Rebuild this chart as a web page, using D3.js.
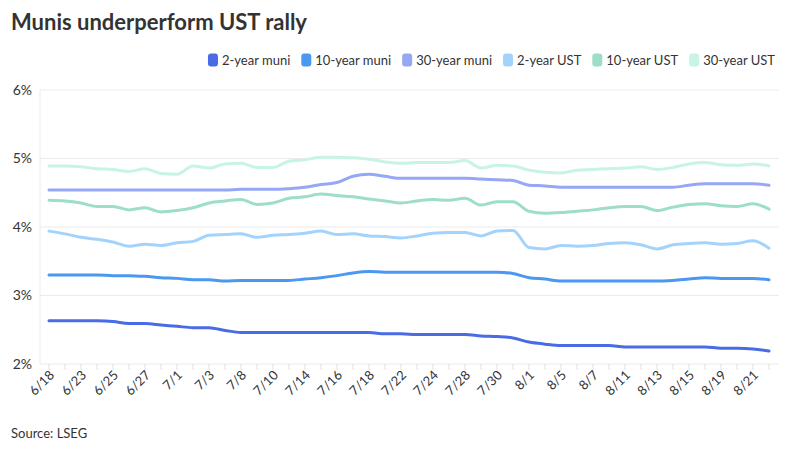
<!DOCTYPE html>
<html>
<head>
<meta charset="utf-8">
<script src="https://cdn.jsdelivr.net/npm/d3@7"></script>
<style>
  body { margin: 0; background: #fff; }
  svg { font-family: Lato, "Open Sans", sans-serif; }
</style>
</head>
<body>
<svg id="chart" width="800" height="450"></svg>
<script>
// trading days shown on the x axis
const dates = ["6/18","6/20","6/23","6/24","6/25","6/26","6/27","6/30","7/1","7/2","7/3","7/7",
  "7/8","7/9","7/10","7/11","7/14","7/15","7/16","7/17","7/18","7/21","7/22","7/23","7/24",
  "7/25","7/28","7/29","7/30","7/31","8/1","8/4","8/5","8/6","8/7","8/8","8/11","8/12","8/13",
  "8/14","8/15","8/18","8/19","8/20","8/21","8/22"];

const muni2 = [2.63,2.63,2.63,2.63,2.62,2.59,2.59,2.57,2.55,2.53,2.53,2.49,
  2.46,2.46,2.46,2.46,2.46,2.46,2.46,2.46,2.46,2.44,2.44,
  2.43,2.43,2.43,2.43,2.41,2.40,2.38,2.32,2.29,2.27,2.27,2.27,
  2.27,2.25,2.25,2.25,2.25,2.25,2.25,2.23,2.23,2.22,2.19];
const muni10 = [3.30,3.30,3.30,3.30,3.29,3.29,3.28,3.26,3.25,3.23,3.23,3.21,
  3.22,3.22,3.22,3.22,3.24,3.26,3.29,3.33,3.35,3.34,3.34,
  3.34,3.34,3.34,3.34,3.34,3.34,3.32,3.26,3.24,3.21,3.21,3.21,
  3.21,3.21,3.21,3.21,3.22,3.24,3.26,3.25,3.25,3.25,3.23];
const muni30 = [4.54,4.54,4.54,4.54,4.54,4.54,4.54,4.54,4.54,4.54,4.54,4.54,
  4.55,4.55,4.55,4.56,4.58,4.62,4.65,4.74,4.77,4.74,4.71,
  4.71,4.71,4.71,4.71,4.70,4.69,4.68,4.61,4.60,4.58,4.58,4.58,
  4.58,4.58,4.58,4.58,4.58,4.61,4.63,4.63,4.63,4.63,4.61];
const ust2 = [3.94,3.90,3.85,3.82,3.78,3.72,3.75,3.73,3.77,3.79,3.88,3.89,
  3.90,3.85,3.88,3.89,3.91,3.94,3.89,3.90,3.87,3.86,3.84,
  3.87,3.91,3.92,3.92,3.87,3.94,3.95,3.70,3.68,3.73,3.72,3.73,
  3.76,3.77,3.74,3.68,3.74,3.76,3.77,3.75,3.76,3.80,3.69];
const ust10 = [4.39,4.38,4.35,4.30,4.30,4.25,4.28,4.22,4.24,4.28,4.35,4.38,
  4.40,4.33,4.35,4.42,4.44,4.48,4.46,4.44,4.41,4.38,4.35,
  4.38,4.40,4.39,4.42,4.32,4.37,4.37,4.23,4.20,4.21,4.23,4.25,
  4.28,4.30,4.30,4.24,4.29,4.33,4.34,4.31,4.30,4.34,4.26];
const ust30 = [4.89,4.89,4.88,4.85,4.84,4.81,4.85,4.78,4.77,4.89,4.86,4.92,
  4.93,4.87,4.87,4.96,4.98,5.02,5.02,5.01,4.99,4.95,4.93,
  4.94,4.94,4.94,4.97,4.86,4.90,4.89,4.83,4.80,4.79,4.83,4.84,
  4.85,4.86,4.88,4.84,4.87,4.92,4.94,4.91,4.90,4.92,4.89];

const seriesNames = ["2-year muni","10-year muni","30-year muni","2-year UST","10-year UST","30-year UST"];
const seriesValues = [muni2, muni10, muni30, ust2, ust10, ust30];
const colors = ["#4a6be6","#4b98f1","#95a7f5","#a3d3fc","#9cdec8","#c7f4e5"];
const yTicks = [2, 3, 4, 5, 6];

const svg = d3.select("#chart");

const margin = { left: 41, right: 23, top: 90, bottom: 86 };
const width = 800, height = 450;

const x = d3.scaleBand()
  .domain(dates)
  .range([margin.left, width - margin.right]);

const y = d3.scaleLinear()
  .domain([2, 6])
  .range([height - margin.bottom, margin.top]);

const xc = (d) => x(d) + x.bandwidth() / 2;

// title
svg.append("text")
  .attr("x", 11).attr("y", 30)
  .attr("font-size", 22).attr("font-weight", 700)
  .attr("fill", "#333")
  .text("Munis underperform UST rally");

// grid lines
svg.append("g")
  .selectAll("line")
  .data(yTicks)
  .join("line")
  .attr("x1", margin.left - 1).attr("x2", width - margin.right + 2)
  .attr("y1", (d) => y(d)).attr("y2", (d) => y(d))
  .attr("stroke", "#ebebeb").attr("stroke-width", 1);

// y axis line
svg.append("line")
  .attr("x1", margin.left - 1).attr("x2", margin.left - 1)
  .attr("y1", y(6)).attr("y2", y(2))
  .attr("stroke", "#ebebeb");

// y labels
svg.append("g")
  .selectAll("text")
  .data(yTicks)
  .join("text")
  .attr("x", 32).attr("y", (d) => y(d))
  .attr("dy", "0.35em")
  .attr("text-anchor", "end")
  .attr("font-size", 14).attr("fill", "#333")
  .text((d) => d + "%");

// x ticks
svg.append("g")
  .selectAll("line")
  .data(dates)
  .join("line")
  .attr("x1", xc).attr("x2", xc)
  .attr("y1", y(2)).attr("y2", y(2) + 6)
  .attr("stroke", "#e0e0e0");

// x labels, every other day
svg.append("g")
  .selectAll("text")
  .data(dates.filter((d, i) => i % 2 === 0))
  .join("text")
  .attr("text-anchor", "end")
  .attr("font-size", 13).attr("fill", "#333")
  .attr("transform", (d) => `translate(${xc(d) + 6},${y(2) + 12}) rotate(-45)`)
  .text((d) => d);

// lines
const line = d3.line()
  .x((d, i) => xc(dates[i]))
  .y((d) => y(d))
  .curve(d3.curveMonotoneX);

svg.append("g")
  .selectAll("path")
  .data(seriesValues)
  .join("path")
  .attr("d", line)
  .attr("fill", "none")
  .attr("stroke", (d, i) => colors[i])
  .attr("stroke-width", 3)
  .attr("stroke-linejoin", "round")
  .attr("stroke-linecap", "round");

// legend, right aligned
const legend = svg.append("g").attr("font-size", 13).attr("fill", "#333");
let lx = 0;
const gap = 11;
seriesNames.forEach((name, i) => {
  const g = legend.append("g");
  g.append("rect")
    .attr("x", 0).attr("y", -6.5)
    .attr("width", 10).attr("height", 13)
    .attr("rx", 3)
    .attr("fill", colors[i]);
  const t = g.append("text")
    .attr("x", 14).attr("dy", "0.35em")
    .text(name);
  const w = 14 + t.node().getComputedTextLength();
  g.attr("transform", `translate(${lx},60)`);
  lx += w + gap;
});
legend.attr("transform", `translate(${775 - (lx - gap)},0)`);

// source
svg.append("text")
  .attr("x", 11).attr("y", 438)
  .attr("font-size", 13).attr("fill", "#333")
  .text("Source: LSEG");
</script>
</body>
</html>
